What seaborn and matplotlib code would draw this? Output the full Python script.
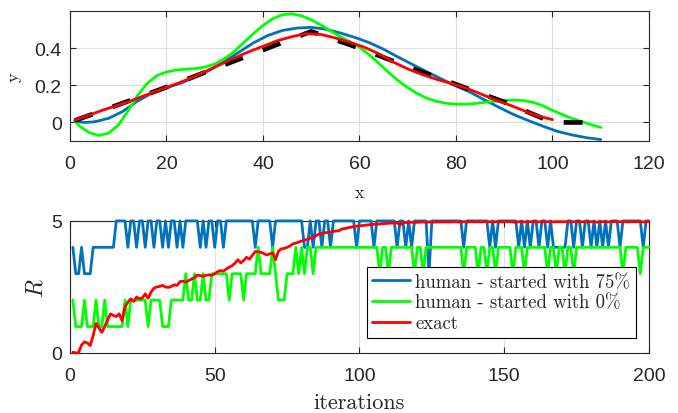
import numpy as np
import pandas as pd
import matplotlib
matplotlib.use("Agg")
import matplotlib.pyplot as plt
import seaborn as sns

# ---------- top panel: fitted curves ----------
black_x = [1, 10, 20, 30, 40, 50, 60, 70, 80, 90, 100, 110]
black_y = [0.01, 0.095, 0.19, 0.29, 0.39, 0.49, 0.40, 0.30, 0.205, 0.11, 0.0, 0.0]

blue_x = [1, 3, 5, 8, 11, 14, 17, 20, 23, 26, 29, 32, 35, 38, 41, 44, 47, 50, 53,
          56, 59, 62, 65, 68, 71, 74, 77, 80, 83, 86, 89, 92, 95, 98, 101, 104, 107, 110]
blue_y = [0.005, 0.0, 0.003, 0.022, 0.06, 0.115, 0.158, 0.186, 0.212, 0.244, 0.282,
          0.328, 0.378, 0.428, 0.468, 0.495, 0.508, 0.512, 0.502, 0.482, 0.458, 0.43,
          0.394, 0.352, 0.312, 0.272, 0.234, 0.196, 0.162, 0.12, 0.08, 0.042, 0.01,
          -0.02, -0.048, -0.067, -0.082, -0.092]

green_x = [1, 2, 4, 6, 8, 10, 12, 14, 16, 18, 20, 22, 24, 26, 28, 30, 32, 34, 36, 38,
           40, 42, 44, 46, 48, 50, 52, 54, 56, 58, 60, 62, 64, 66, 68, 70, 72, 74, 76,
           78, 80, 82, 84, 86, 88, 90, 92, 94, 96, 98, 100, 102, 104, 106, 108, 110]
green_y = [0.01, -0.02, -0.055, -0.07, -0.058, -0.015, 0.06, 0.145, 0.21, 0.252, 0.272,
           0.282, 0.287, 0.29, 0.298, 0.315, 0.343, 0.38, 0.43, 0.478, 0.522, 0.558,
           0.58, 0.585, 0.574, 0.553, 0.525, 0.493, 0.462, 0.435, 0.405, 0.365, 0.318,
           0.27, 0.225, 0.188, 0.155, 0.13, 0.113, 0.103, 0.098, 0.098, 0.102, 0.108,
           0.113, 0.118, 0.12, 0.118, 0.108, 0.09, 0.065, 0.043, 0.022, 0.005, -0.012,
           -0.027]

red_x = [1, 4, 7, 10, 13, 16, 19, 22, 25, 28, 31, 34, 37, 40, 43, 46, 49, 52, 55, 58,
         61, 64, 67, 70, 73, 76, 79, 82, 85, 88, 91, 94, 97, 100]
red_y = [0.012, 0.04, 0.068, 0.093, 0.12, 0.15, 0.18, 0.207, 0.238, 0.274, 0.31, 0.346,
         0.38, 0.41, 0.44, 0.462, 0.478, 0.474, 0.455, 0.432, 0.405, 0.37, 0.325, 0.288,
         0.258, 0.232, 0.21, 0.186, 0.155, 0.123, 0.095, 0.064, 0.035, 0.015]

top_xticks = [0, 20, 40, 60, 80, 100, 120]
top_yticks = [0, 0.2, 0.4]
top_ytick_labels = ['0', '0.2', '0.4']

# ---------- bottom panel: R per iteration ----------
iterations = list(range(1, 201))

r_human75 = [4, 3, 3, 4, 3, 3, 3, 4, 4, 4,  4, 4, 4, 4, 4, 5, 5, 5, 5, 4,
             5, 5, 4, 5, 5, 4, 5, 5, 4, 5,  5, 4, 5, 4, 5, 5, 4, 5, 4, 5,
             5, 5, 5, 5, 4, 5, 4, 5, 5, 4,  5, 5, 4, 5, 5, 5, 5, 5, 5, 5,
             5, 5, 5, 4, 5, 5, 5, 5, 5, 4,  5, 5, 5, 5, 5, 5, 5, 5, 5, 5,
             4, 4, 5, 4, 5, 5, 4, 5, 5, 4,  5, 5, 5, 5, 5, 5, 5, 5, 4, 5,
             5, 5, 5, 5, 4, 5, 5, 5, 5, 5,  5, 5, 4, 5, 5, 4, 5, 4, 5, 5,
             5, 5, 5, 3, 5, 5, 5, 5, 5, 5,  5, 5, 5, 5, 5, 4, 5, 5, 5, 5,
             5, 5, 5, 5, 4, 5, 4, 5, 5, 5,  5, 5, 5, 5, 4, 5, 4, 5, 4, 5,
             5, 4, 5, 5, 4, 5, 4, 4, 4, 4,  4, 5, 5, 4, 5, 5, 4, 5, 5, 4,
             5, 4, 5, 4, 5, 4, 5, 5, 5, 4,  5, 5, 5, 5, 5, 5, 5, 4, 5, 5]

r_human0 = [2, 1, 1, 1, 2, 1, 1, 1, 2, 1,  1, 2, 1, 1, 1, 1, 1, 1, 2, 1,
            2, 2, 2, 2, 2, 2, 1, 2, 2, 2,  2, 1, 1, 1, 2, 2, 2, 2, 2, 3,
            2, 2, 3, 2, 2, 3, 2, 2, 3, 3,  3, 3, 3, 3, 2, 3, 3, 3, 3, 2,
            3, 3, 3, 3, 4, 3, 3, 3, 3, 4,  3, 2, 2, 2, 3, 3, 3, 4, 3, 4,
            3, 4, 4, 3, 4, 4, 4, 4, 4, 4,  4, 4, 4, 4, 4, 4, 4, 4, 4, 4,
            4, 4, 4, 4, 4, 4, 3, 4, 4, 3,  4, 4, 4, 4, 4, 4, 4, 4, 3, 4,
            4, 3, 4, 4, 4, 4, 4, 4, 4, 4,  4, 4, 4, 4, 4, 3, 4, 4, 4, 4,
            3, 4, 4, 3, 4, 4, 3, 4, 4, 4,  4, 4, 3, 4, 4, 4, 3, 4, 4, 4,
            4, 4, 4, 4, 3, 4, 4, 3, 4, 4,  3, 4, 4, 3, 4, 4, 4, 4, 4, 4,
            4, 4, 4, 4, 4, 4, 4, 4, 4, 4,  3, 4, 4, 4, 4, 4, 3, 4, 4, 4]

r_exact = [0.03, 0.0, 0.02, 0.3, 0.42, 0.38, 0.28, 0.65, 1.12, 0.95,
           0.78, 1.0, 1.25, 1.48, 1.42, 1.38, 1.48, 1.22, 1.75, 1.92,
           2.05, 1.95, 2.12, 2.05, 2.08, 2.24, 2.07, 2.3, 2.45, 2.5,
           2.52, 2.56, 2.5, 2.48, 2.52, 2.58, 2.56, 2.7, 2.72, 2.68,
           2.74, 2.8, 2.85, 2.95, 2.93, 2.9, 2.94, 2.96, 2.94, 3.0,
           3.08, 3.12, 3.1, 3.18, 3.25, 3.3, 3.4, 3.53, 3.41, 3.5,
           3.62, 3.55, 3.7, 3.84, 3.83, 3.81, 3.76, 3.71, 3.75, 3.79,
           3.53, 3.85, 3.94, 3.96, 4.0, 4.05, 4.13, 4.16, 4.2, 4.24,
           4.27, 4.3, 4.35, 4.38, 4.44, 4.5, 4.52, 4.55, 4.56, 4.58,
           4.6, 4.62, 4.63, 4.7, 4.71, 4.74, 4.76, 4.79, 4.8, 4.82,
           4.82, 4.84, 4.85, 4.86, 4.87, 4.88, 4.88, 4.9, 4.9, 4.91,
           4.92, 4.92, 4.93, 4.85, 4.93, 4.94, 4.94, 4.95, 4.94, 4.95,
           4.95, 4.96, 4.95, 4.96, 4.96, 4.95, 4.96, 4.96, 4.96, 4.96,
           4.96, 4.96, 4.97, 4.96, 4.96, 4.97, 4.96, 4.97, 4.97, 4.96,
           4.97, 4.96, 4.97, 4.97, 4.97, 4.96, 4.97, 4.97, 4.96, 4.97,
           4.97, 4.97, 4.96, 4.94, 4.97, 4.97, 4.96, 4.97, 4.97, 4.97,
           4.97, 4.96, 4.97, 4.97, 4.97, 4.97, 4.96, 4.97, 4.97, 4.97,
           4.97, 4.97, 4.96, 4.97, 4.97, 4.97, 4.97, 4.96, 4.97, 4.97,
           4.97, 4.95, 4.97, 4.97, 4.97, 4.96, 4.97, 4.97, 4.97, 4.97,
           4.97, 4.97, 4.96, 4.97, 4.97, 4.97, 4.97, 4.96, 4.97, 4.97]

legend_labels = ['human - started with 75%', 'human - started with 0%', 'exact']
bottom_xticks = [0, 50, 100, 150, 200]
bottom_yticks = [0, 5]

c_blue = '#0072BD'
c_green = '#00FF00'
c_red = '#FF0000'
axis_col = '#262626'

sns.set_theme(style="white")
plt.rcParams['font.family'] = ['Liberation Sans', 'DejaVu Sans']
plt.rcParams['mathtext.fontset'] = 'cm'
serif = 'cmr10'

fig = plt.figure(figsize=(6.78, 4.14), dpi=100)
ax1 = fig.add_axes([0.1032, 0.657, 0.854, 0.314])
ax2 = fig.add_axes([0.1032, 0.145, 0.854, 0.319])


def style_axes(ax):
    ax.grid(True, color='#dedede', lw=0.8)
    ax.set_axisbelow(True)
    for s in ax.spines.values():
        s.set_visible(True)
        s.set_color(axis_col)
        s.set_linewidth(0.8)
    ax.tick_params(direction='in', length=4, width=0.8, color=axis_col,
                   labelsize=14, labelcolor=axis_col,
                   bottom=True, left=True, top=True, right=True)
    ax.tick_params(axis='x', pad=10)
    ax.tick_params(axis='y', pad=6)


# top panel
sns.lineplot(x=blue_x, y=blue_y, ax=ax1, color=c_blue, lw=2, estimator=None, errorbar=None)
sns.lineplot(x=green_x, y=green_y, ax=ax1, color=c_green, lw=2, estimator=None, errorbar=None)
sns.lineplot(x=black_x, y=black_y, ax=ax1, color='black', lw=3.4,
             linestyle=(0, (4, 4.5)), estimator=None, errorbar=None)
sns.lineplot(x=red_x, y=red_y, ax=ax1, color=c_red, lw=2, estimator=None, errorbar=None)
ax1.set_xlim(0, 120)
ax1.set_ylim(-0.1, 0.6)
ax1.set_xticks(top_xticks)
ax1.set_yticks(top_yticks)
ax1.set_yticklabels(top_ytick_labels)
style_axes(ax1)
ax1.set_xlabel('x', family=serif, fontsize=13, color=axis_col, labelpad=9)
ax1.set_ylabel('y', family=serif, fontsize=13, color=axis_col, labelpad=9)

# bottom panel
df = pd.DataFrame({'iter': iterations, 'h75': r_human75, 'h0': r_human0, 'exact': r_exact})
for col, c, lab in zip(['h75', 'h0', 'exact'], [c_blue, c_green, c_red], legend_labels):
    sns.lineplot(data=df, x='iter', y=col, ax=ax2, color=c, lw=2, label=lab,
                 estimator=None, errorbar=None, clip_on=False, zorder=3)
ax2.set_xlim(0, 200)
ax2.set_ylim(0, 5)
ax2.set_xticks(bottom_xticks)
ax2.set_yticks(bottom_yticks)
style_axes(ax2)
ax2.set_xlabel('iterations', family=serif, fontsize=16, color=axis_col, labelpad=6)
ax2.set_ylabel('$R$', fontsize=17, color=axis_col, labelpad=2)

leg = ax2.legend(loc='upper right', bbox_to_anchor=(0.9775, 0.649),
                 prop={'family': serif, 'size': 13.5}, frameon=True, fancybox=False,
                 edgecolor='black', framealpha=1, handlelength=2.0, borderpad=0.3,
                 labelspacing=0.15, handletextpad=0.3, borderaxespad=0)
leg.get_frame().set_linewidth(0.8)

fig.savefig('out.png', dpi=100)
